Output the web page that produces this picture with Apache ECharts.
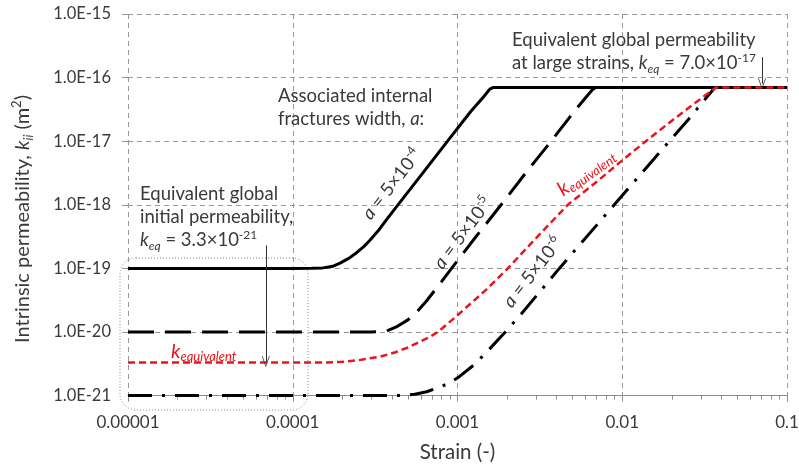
<!DOCTYPE html>
<html>
<head>
<meta charset="utf-8">
<script src="https://cdn.jsdelivr.net/npm/echarts@6/dist/echarts.min.js"></script>
<style>
html,body{margin:0;padding:0;background:#fff;}
#chart{width:799px;height:466px;}
</style>
</head>
<body>
<div id="chart"></div>
<script>
// ---- tick labels ----
const xTickLabels = ['0.00001', '0.0001', '0.001', '0.01', '0.1'];
const yTickLabels = ['1.0E-21', '1.0E-20', '1.0E-19', '1.0E-18', '1.0E-17', '1.0E-16', '1.0E-15'];
const yTickValues = [1e-21, 1e-20, 1e-19, 1e-18, 1e-17, 1e-16, 1e-15];

// ---- series: a = 5x10^-4 (solid) ----
const strainA4 = [1e-5, 1e-4, 1.3e-4, 1.5e-4, 1.75e-4, 1.95e-4, 2.2e-4, 2.45e-4, 2.7e-4, 2.95e-4, 3.3e-4, 3.7e-4, 4.35e-4, 6e-4, 8.7e-4, 1.2e-3, 1.45e-3, 1.57e-3, 1.65e-3, 0.1];
const permA4 = [1e-19, 1e-19, 1.003e-19, 1.01e-19, 1.08e-19, 1.22e-19, 1.45e-19, 1.78e-19, 2.2e-19, 2.8e-19, 3.9e-19, 5.8e-19, 1e-18, 2.9e-18, 1e-17, 2.9e-17, 5.1e-17, 6.6e-17, 7e-17, 7e-17];

// ---- series: a = 5x10^-5 (long dash) ----
const strainA5 = [1e-5, 3e-4, 3.7e-4, 4.25e-4, 5e-4, 5.7e-4, 6.5e-4, 8e-4, 9.2e-4, 1.3e-3, 1.84e-3, 2.6e-3, 3.7e-3, 5.2e-3, 6.6e-3, 7.0e-3, 0.1];
const permA5 = [1e-20, 1e-20, 1.03e-20, 1.2e-20, 1.55e-20, 2.1e-20, 3.1e-20, 6.2e-20, 1e-19, 3.2e-19, 1e-18, 3.2e-18, 1e-17, 3.1e-17, 6.5e-17, 7e-17, 7e-17];

// ---- series: a = 5x10^-6 (dash-dot) ----
const strainA6 = [1e-5, 4.5e-4, 5.5e-4, 6.5e-4, 7.4e-4, 8.9e-4, 1.03e-3, 1.25e-3, 1.5e-3, 1.95e-3, 2.45e-3, 4.15e-3, 8.94e-3, 0.0193, 0.0252, 0.0365, 0.1];
const permA6 = [1e-21, 1e-21, 1.05e-21, 1.15e-21, 1.3e-21, 1.56e-21, 2e-21, 3e-21, 4.8e-21, 1e-20, 1.95e-20, 1e-19, 1e-18, 1e-17, 2.2e-17, 7e-17, 7e-17];

// ---- series: k equivalent (red) ----
const strainEq = [1e-5, 1.5e-4, 2e-4, 2.5e-4, 3.4e-4, 4.2e-4, 5e-4, 5.9e-4, 6.8e-4, 7.6e-4, 9.8e-4, 1.49e-3, 2.02e-3, 3e-3, 4.67e-3, 7e-3, 0.01, 0.0139, 0.02, 0.027, 0.037, 0.1];
const permEq = [3.3e-21, 3.3e-21, 3.4e-21, 3.6e-21, 4.1e-21, 4.8e-21, 5.7e-21, 7e-21, 8.4e-21, 1e-20, 1.75e-20, 4.6e-20, 1e-19, 3e-19, 1e-18, 2.3e-18, 5e-18, 1e-17, 2.1e-17, 3.8e-17, 7e-17, 7e-17];

// ---- minor tick positions for log x-axis ----
const minorMultipliers = [2, 3, 4, 5, 6, 7, 8, 9];
const minorDecades = [1e-5, 1e-4, 1e-3, 1e-2];

function zip(xs, ys) { return xs.map((x, i) => [x, ys[i]]); }
const minorTicks = [];
minorDecades.forEach(d => minorMultipliers.forEach(m => minorTicks.push(m * d)));

const FONT = 'Lato, "Open Sans", sans-serif';
const TXT = '#3a3a3a';
const RED = '#e8161b';

function rs(size, color, extra) {
  return Object.assign({ fontSize: size, fontFamily: FONT, fill: color, color: color }, extra || {});
}
const richBase = {
  n: rs(18.5, TXT, { lineHeight: 23 }),
  i: rs(18.5, TXT, { fontStyle: 'italic', lineHeight: 23 }),
  sub: rs(12, TXT, { fontStyle: 'italic', verticalAlign: 'bottom', lineHeight: 12 }),
  sup: rs(12, TXT, { verticalAlign: 'top', lineHeight: 12 }),
  rk: rs(20, RED, { fontStyle: 'italic', lineHeight: 23 }),
  rsub: rs(13, RED, { fontStyle: 'italic', verticalAlign: 'bottom', lineHeight: 12 }),
  tn: rs(20, TXT, { lineHeight: 25 }),
  ti: rs(20, TXT, { fontStyle: 'italic', lineHeight: 25 }),
  ts: rs(13, TXT, { fontStyle: 'italic', verticalAlign: 'bottom', lineHeight: 13 }),
  tp: rs(13, TXT, { verticalAlign: 'top', lineHeight: 13 })
};

function textEl(x, y, text, opts) {
  opts = opts || {};
  return {
    type: 'text', x: x, y: y, rotation: opts.rot ? opts.rot * Math.PI / 180 : 0, z: 10,
    style: {
      text: text, rich: richBase, fontSize: 18.5, fontFamily: FONT, fill: TXT,
      align: opts.align || 'left', textAlign: opts.align || 'left',
      verticalAlign: opts.va || 'top', textVerticalAlign: opts.va || 'top', lineHeight: 23
    }
  };
}

const chevron = 'path://M5,0 L10,12 L9,12 L5,2.2 L1,12 L0,12 Z';

const chart = echarts.init(document.getElementById('chart'), null, { renderer: 'canvas' });

const option = {
  animation: false,
  backgroundColor: '#fff',
  grid: { left: 128, right: 12, top: 14, bottom: 70.4, containLabel: false, outerBoundsMode: 'none' },
  xAxis: [{
    type: 'log', logBase: 10, min: 1e-5, max: 0.1, interval: 1,
    name: 'Strain (-)', nameLocation: 'middle', nameGap: 46,
    nameTextStyle: { fontSize: 20.5, fontFamily: FONT, color: TXT },
    axisLine: { show: true, lineStyle: { color: '#8c8c8c', width: 1 } },
    axisTick: { show: true, length: 6, lineStyle: { color: '#8c8c8c' } },
    axisLabel: { fontSize: 17, fontFamily: FONT, color: TXT, margin: 18, showMinLabel: true, showMaxLabel: true,
      hideOverlap: false,
      formatter: v => xTickLabels[Math.round(Math.log10(v)) + 5] },
    splitLine: { show: true, lineStyle: { color: '#9a9a9a', type: [5, 4], width: 1 } }
  }, {
    type: 'log', logBase: 10, min: 1e-5, max: 0.1, position: 'bottom', offset: 0,
    axisLine: { show: false },
    axisTick: { show: true, length: 4, customValues: minorTicks, lineStyle: { color: '#8c8c8c' } },
    axisLabel: { show: false },
    splitLine: { show: false }
  }],
  yAxis: {
    type: 'log', logBase: 10, min: 1e-21, max: 1e-15, interval: 1,
    axisLine: { show: false },
    axisTick: { show: true, length: 6, lineStyle: { color: '#9a9a9a' } },
    axisLabel: { fontSize: 16.5, fontFamily: FONT, color: TXT, margin: 17, showMinLabel: true, showMaxLabel: true,
      hideOverlap: false, customValues: yTickValues,
      formatter: v => yTickLabels[Math.round(Math.log10(v)) + 21] },
    splitLine: { show: true, lineStyle: { color: '#9a9a9a', type: [5, 4], width: 1 } }
  },
  series: [{
    name: 'a=5e-4', type: 'line', data: zip(strainA4, permA4), showSymbol: false, symbol: 'none',
    lineStyle: { color: '#000', width: 3, type: 'solid' }, z: 3
  }, {
    name: 'a=5e-5', type: 'line', data: zip(strainA5, permA5), showSymbol: false, symbol: 'none',
    lineStyle: { color: '#000', width: 3, type: [26, 11] }, z: 3
  }, {
    name: 'a=5e-6', type: 'line', data: zip(strainA6, permA6), showSymbol: false, symbol: 'none',
    lineStyle: { color: '#000', width: 3, type: [24, 10, 3, 10] }, z: 3,
    markLine: {
      silent: true, symbol: ['none', chevron], symbolSize: [8, 11],
      label: { show: false },
      lineStyle: { color: '#333', width: 1, type: 'solid' },
      data: [
        [{ coord: [0.0705, 2.1e-16] }, { coord: [0.0705, 8.0e-17] }],
        [{ coord: [6.86e-5, 2.3e-19] }, { coord: [6.86e-5, 3.4e-21] }]
      ]
    }
  }, {
    name: 'k equivalent', type: 'line', data: zip(strainEq, permEq), showSymbol: false, symbol: 'none',
    lineStyle: { color: RED, width: 2.5, type: [7, 4] }, z: 4
  }],
  graphic: [
    { type: 'rect', z: 1, shape: { x: 120, y: 258, width: 188, height: 152, r: 16 },
      style: { fill: 'none', stroke: '#8a8a8a', lineWidth: 1, lineDash: [1, 2] } },
    textEl(23, 219, '{tn|Intrinsic permeability, }{ti|k}{ts|ii}{tn| (m}{tp|2}{tn|)}', { va: 'middle', align: 'center', rot: 90 }),
    textEl(278, 85, '{n|Associated internal}\n{n|fractures width, }{i|a}{n|:}'),
    textEl(512, 29, '{n|Equivalent global permeability}\n{n|at large strains, }{i|k}{sub|eq}{n| = 7.0×10}{sup|-17}'),
    textEl(140, 183, '{n|Equivalent global}\n{n|initial permeability,}\n{i|k}{sub|eq}{n| = 3.3×10}{sup|-21}'),
    textEl(171, 352, '{rk|k}{rsub|equivalent}', { va: 'middle' }),
    textEl(586, 172, '{rk|k}{rsub|equivalent}', { va: 'middle', align: 'center', rot: 36 }),
    textEl(392, 184, '{i|a}{n| = 5×10}{sup|-4}', { va: 'middle', align: 'center', rot: 52 }),
    textEl(463, 233, '{i|a}{n| = 5×10}{sup|-5}', { va: 'middle', align: 'center', rot: 53 }),
    textEl(533, 272, '{i|a}{n| = 5×10}{sup|-6}', { va: 'middle', align: 'center', rot: 52 })
  ]
};
chart.setOption(option);
</script>
</body>
</html>
